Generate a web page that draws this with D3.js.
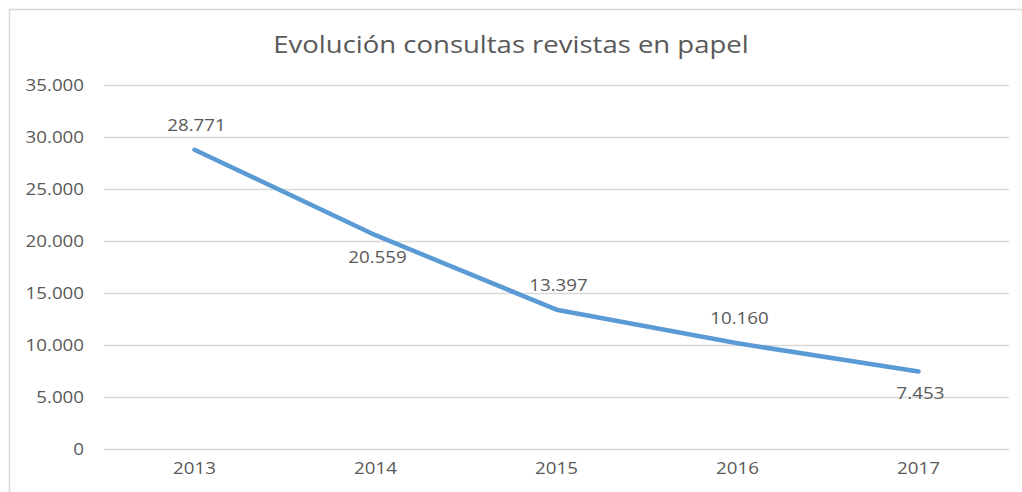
<!DOCTYPE html>
<html>
<head>
<meta charset="utf-8">
<script src="https://cdn.jsdelivr.net/npm/d3@7"></script>
<style>
  body { margin: 0; background: #fff; }
  text { font-family: "Open Sans", sans-serif; fill: #595959; }
</style>
</head>
<body>
<div id="chart"></div>
<script>
const years = ['2013', '2014', '2015', '2016', '2017'];
const consultas = [28771, 20559, 13397, 10160, 7453];
const labelSide = ['above', 'below', 'above', 'above', 'below'];
const yTicks = [0, 5000, 10000, 15000, 20000, 25000, 30000, 35000];

const width = 1022;
const height = 492;
const margin = { top: 85, right: 13, bottom: 43, left: 104 };
const stretch = 1.17; // source text is a bit wider than the fonts we have

const fmt = v => d3.format(',')(v).replace(/,/g, '.');

const svg = d3.select('#chart').append('svg')
  .attr('width', width)
  .attr('height', height);

// chart frame
svg.append('path')
  .attr('d', `M9.5,${height} V9.5 H${width}`)
  .attr('fill', 'none')
  .attr('stroke', '#d9d9d9')
  .attr('stroke-width', 1.5);

svg.append('text')
  .attr('x', 511)
  .attr('y', 53)
  .attr('text-anchor', 'middle')
  .style('font-size', '23.5px')
  .text('Evolución consultas revistas en papel');

const x = d3.scaleBand()
  .domain(years)
  .range([margin.left, width - margin.right]);

const y = d3.scaleLinear()
  .domain([0, 35000])
  .range([height - margin.bottom, margin.top]);

const yAxis = d3.axisLeft(y)
  .tickValues(yTicks)
  .tickFormat(fmt)
  .tickSize(-(width - margin.left - margin.right))
  .tickPadding(20);

svg.append('g')
  .attr('transform', `translate(${margin.left},0)`)
  .call(yAxis)
  .call(g => g.select('.domain').remove())
  .call(g => g.selectAll('line').attr('stroke', '#d9d9d9').attr('stroke-width', 1.5))
  .call(g => g.selectAll('text').style('font-size', '16px').attr('fill', '#595959'));

const xAxis = d3.axisBottom(x)
  .tickSize(0)
  .tickPadding(14);

svg.append('g')
  .attr('transform', `translate(0,${height - margin.bottom})`)
  .call(xAxis)
  .call(g => g.select('.domain').remove())
  .call(g => g.selectAll('text').style('font-size', '16px').attr('fill', '#595959'));

const cx = (d, i) => x(years[i]) + x.bandwidth() / 2;

const line = d3.line()
  .x(cx)
  .y(d => y(d));

svg.append('path')
  .datum(consultas)
  .attr('d', line)
  .attr('fill', 'none')
  .attr('stroke', '#5b9bd5')
  .attr('stroke-width', 4.5)
  .attr('stroke-linecap', 'round')
  .attr('stroke-linejoin', 'round');

svg.selectAll('.dlabel')
  .data(consultas)
  .enter().append('text')
  .attr('class', 'dlabel')
  .attr('x', (d, i) => cx(d, i) + 2)
  .attr('y', (d, i) => y(d) + (labelSide[i] === 'above' ? -19 : 28))
  .attr('text-anchor', 'middle')
  .style('font-size', '16px')
  .text(fmt);

// widen all text a little
svg.selectAll('text').each(function() {
  const w = this.getComputedTextLength();
  d3.select(this)
    .attr('textLength', w * stretch)
    .attr('lengthAdjust', 'spacingAndGlyphs');
});
</script>
</body>
</html>
